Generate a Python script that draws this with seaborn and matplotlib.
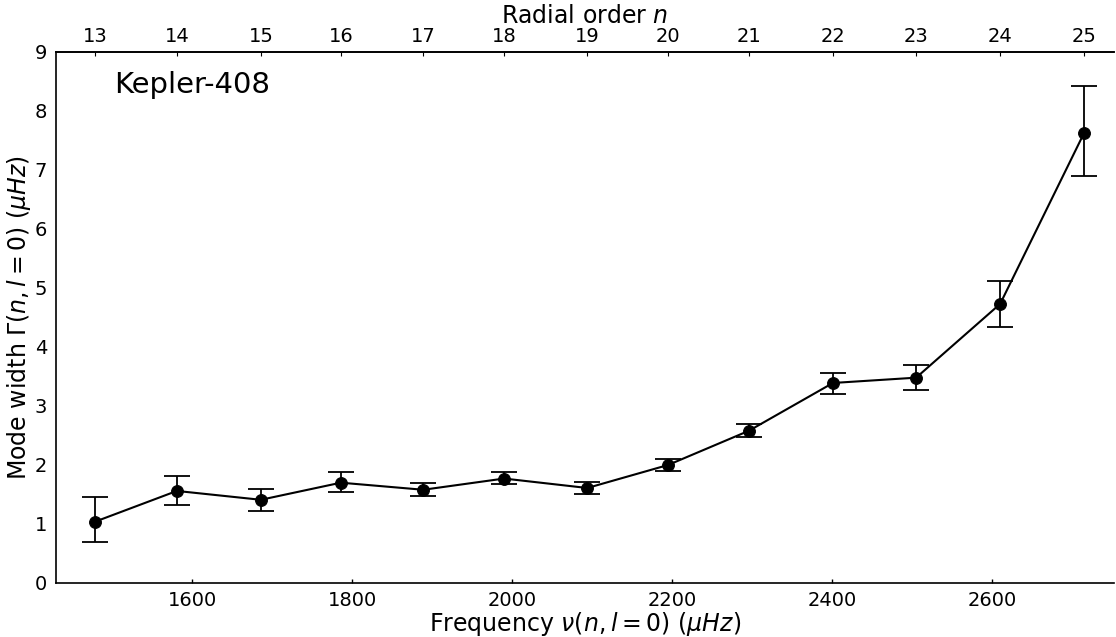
import numpy as np
import pandas as pd
import matplotlib
matplotlib.use("Agg")
import matplotlib.pyplot as plt
import seaborn as sns

# Radial orders and l=0 mode frequencies (µHz)
orders = [13, 14, 15, 16, 17, 18, 19, 20, 21, 22, 23, 24, 25]
freq = [1479, 1581, 1686, 1786, 1889, 1990, 2094, 2195, 2296, 2401, 2505, 2610, 2715]
# Mode widths and asymmetric uncertainties (µHz)
width = [1.04, 1.56, 1.41, 1.70, 1.58, 1.77, 1.61, 2.00, 2.58, 3.39, 3.48, 4.73, 7.63]
err_hi = [0.42, 0.26, 0.19, 0.18, 0.12, 0.11, 0.10, 0.10, 0.11, 0.17, 0.21, 0.38, 0.80]
err_lo = [0.34, 0.24, 0.19, 0.16, 0.11, 0.10, 0.10, 0.10, 0.11, 0.18, 0.21, 0.39, 0.73]

xticks_bottom = [1600, 1800, 2000, 2200, 2400, 2600]
yticks = list(range(0, 10))

sns.set_style("white")
plt.rcParams["font.family"] = ["DejaVu Sans"]
plt.rcParams["mathtext.fontset"] = "dejavusans"
plt.rcParams["text.color"] = "black"
plt.rcParams["axes.labelcolor"] = "black"
plt.rcParams["xtick.color"] = "black"
plt.rcParams["ytick.color"] = "black"

df = pd.DataFrame({"freq": freq, "width": width})

fig = plt.figure(figsize=(11.16, 6.37), dpi=100)
ax = fig.add_axes([0.0502, 0.0848, 0.9478, 0.8336])

sns.lineplot(data=df, x="freq", y="width", ax=ax, color="black",
             marker="o", markersize=8.5, markeredgecolor="black",
             linewidth=1.5, zorder=3)
ax.errorbar(freq, width, yerr=[err_lo, err_hi], fmt="none", ecolor="black",
            elinewidth=1.3, capsize=9.5, capthick=1.3, zorder=2)

ax.set_xlim(1430, 2752)
ax.set_ylim(0, 9)
ax.set_xticks(xticks_bottom)
ax.set_yticks(yticks)
ax.tick_params(axis="both", labelsize=14, length=3, width=1, colors="black")
ax.tick_params(axis="x", direction="in", pad=6)
ax.tick_params(axis="y", direction="out")
ax.set_xlabel(r"Frequency $\nu(n,l=0)$ ($\mu Hz$)", fontsize=17, labelpad=0)
ax.set_ylabel(r"Mode width $\Gamma(n,l=0)$ ($\mu Hz$)", fontsize=17, labelpad=1)

ax.text(0.055, 0.965, "Kepler-408", transform=ax.transAxes, fontsize=21,
        ha="left", va="top")

# Radial order on the top axis
top = ax.twiny()
top.set_xlim(ax.get_xlim())
top.set_xticks(freq)
top.set_xticklabels([str(n) for n in orders])
top.tick_params(axis="x", labelsize=14, length=3, direction="in", pad=4,
                colors="black")
top.set_xlabel(r"Radial order $n$", fontsize=17, labelpad=3)

for side, sp in ax.spines.items():
    sp.set_color("black")
    sp.set_linewidth(1.2)
ax.spines["right"].set_visible(False)
for side, sp in top.spines.items():
    sp.set_visible(side == "top")
    sp.set_color("black")
    sp.set_linewidth(1.2)

fig.savefig("out.png", dpi=100)
